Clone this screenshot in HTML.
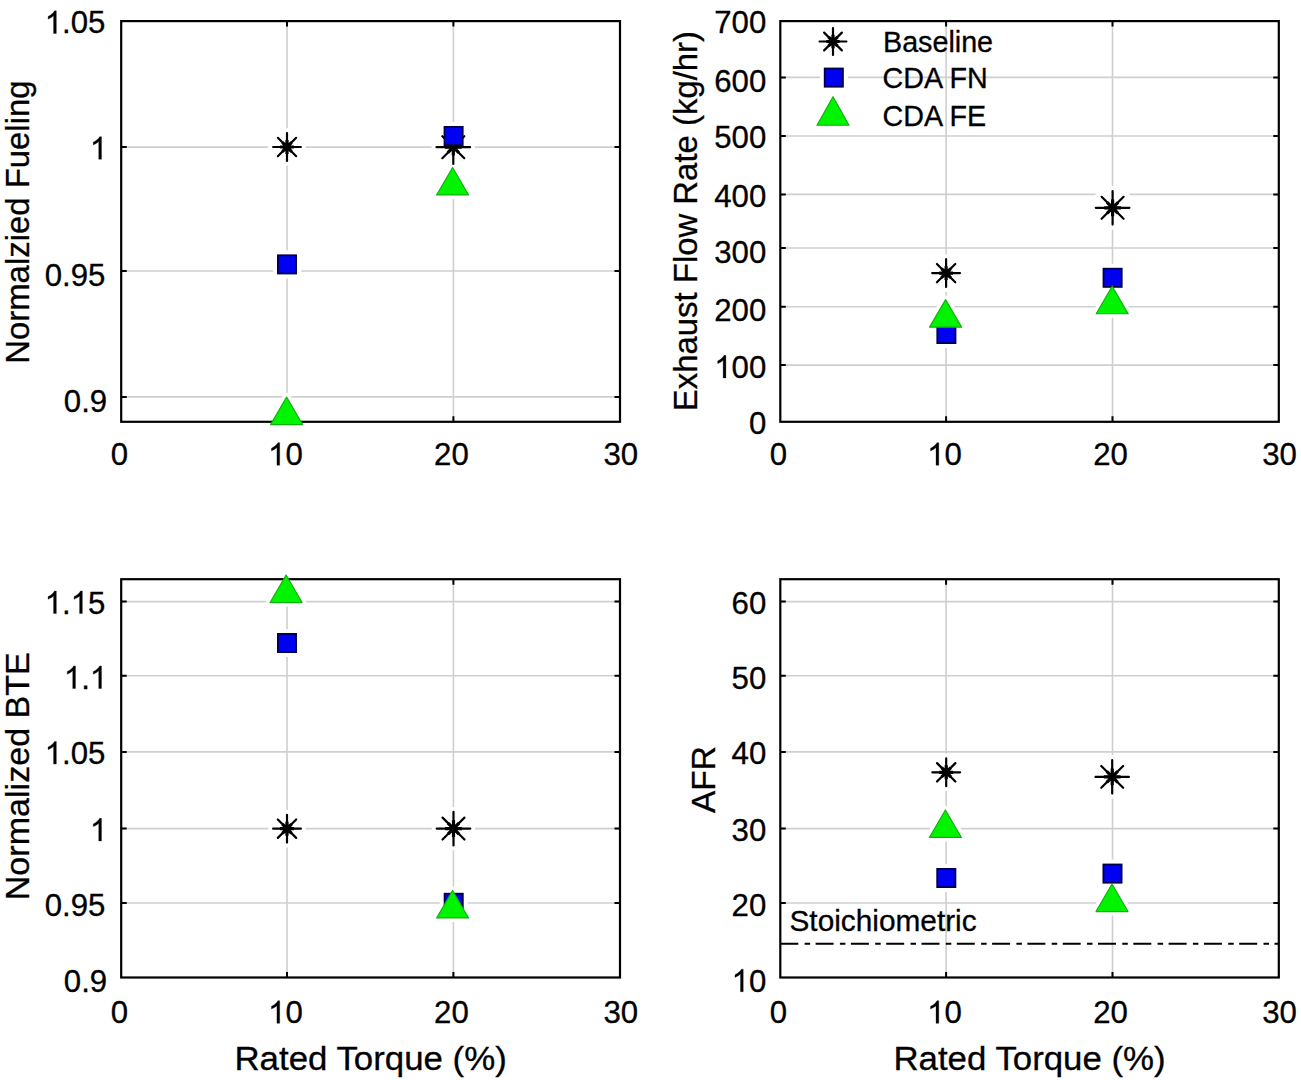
<!DOCTYPE html><html><head><meta charset="utf-8"><style>html,body{margin:0;padding:0;background:#fff;width:1301px;height:1080px;overflow:hidden;}</style></head><body><svg width="1301" height="1080" viewBox="0 0 1301 1080" style="position:absolute;left:0;top:0">
<rect width="1301" height="1080" fill="#fff"/>
<path d="M287 21.1V421.8M453.4 21.1V421.8M121.2 396.9H620M121.2 271H620M121.2 147.1H620" stroke="#cfcfcf" stroke-width="1.6" fill="none"/>
<circle cx="287" cy="147" r="18.8" fill="#fff"/><circle cx="453.3" cy="147.2" r="21.7" fill="#fff"/><rect x="273" y="250.4" width="28" height="28" fill="#fff"/><rect x="439.6" y="122" width="28" height="28" fill="#fff"/><path d="M286.6 397.05L302.6 424.55L270.6 424.55Z" fill="#fff" stroke="#fff" stroke-width="8" stroke-linejoin="round"/><path d="M452.6 167.45L468.6 194.95L436.6 194.95Z" fill="#fff" stroke="#fff" stroke-width="8" stroke-linejoin="round"/>
<path d="M287 21.1v5.5M287 421.8v-5.5M453.4 21.1v5.5M453.4 421.8v-5.5M121.2 396.9h5.5M620 396.9h-5.5M121.2 271h5.5M620 271h-5.5M121.2 147.1h5.5M620 147.1h-5.5" stroke="#000" stroke-width="2" fill="none"/>
<rect x="121.2" y="21.1" width="498.8" height="400.7" fill="none" stroke="#000" stroke-width="2.2"/>
<g font-family='"Liberation Sans", sans-serif' font-size="31.5" fill="#000" stroke="#000" stroke-width="0.3"><text transform="translate(63.85 412.1) scale(0.99 1)">0.9</text><text transform="translate(44.7 286.2) scale(0.99 1)">0.95</text><text transform="translate(89.86 159.2) scale(0.99 1)"> </text><path transform="translate(89.86 159.2) scale(0.01523 -0.01538)" d="M763 0L583 0L583 1147C540 1106 483 1064 413 1023C343 982 280 951 223 930L223 1104C323 1151 410 1208 485 1275C560 1342 613 1406 644 1466L763 1466Z" stroke-width="0.3" vector-effect="non-scaling-stroke"/><text transform="translate(44.7 33.4) scale(0.99 1)"> .05</text><path transform="translate(44.7 33.4) scale(0.01523 -0.01538)" d="M763 0L583 0L583 1147C540 1106 483 1064 413 1023C343 982 280 951 223 930L223 1104C323 1151 410 1208 485 1275C560 1342 613 1406 644 1466L763 1466Z" stroke-width="0.3" vector-effect="non-scaling-stroke"/><text transform="translate(110.73 465.2) scale(0.99 1)">0</text><text transform="translate(268.06 465.2) scale(0.99 1)"> 0</text><path transform="translate(268.06 465.2) scale(0.01523 -0.01538)" d="M763 0L583 0L583 1147C540 1106 483 1064 413 1023C343 982 280 951 223 930L223 1104C323 1151 410 1208 485 1275C560 1342 613 1406 644 1466L763 1466Z" stroke-width="0.3" vector-effect="non-scaling-stroke"/><text transform="translate(434.06 465.2) scale(0.99 1)">20</text><text transform="translate(603.46 465.2) scale(0.99 1)">30</text></g>
<text transform="translate(28.8 222.1) scale(1.0 1) rotate(-90)" text-anchor="middle" font-family='"Liberation Sans", sans-serif' font-size="32.9" stroke="#000" stroke-width="0.3">Normalzied Fueling</text>
<path d="M273.1 147H300.9M287 133.1V160.9M277.82 137.82L296.18 156.18M277.82 156.18L296.18 137.82" stroke="#000" stroke-width="2.2" stroke-linecap="round" fill="none"/><path d="M280.05 147H293.95M287 140.05V153.95M282.41 142.41L291.59 151.59M282.41 151.59L291.59 142.41" stroke="#000" stroke-width="3.2" fill="none"/><circle cx="287" cy="147" r="3.6"/><path d="M436.5 147.2H470.1M453.3 130.4V164M442.33 136.23L464.27 158.17M442.33 158.17L464.27 136.23" stroke="#000" stroke-width="2.2" stroke-linecap="round" fill="none"/><path d="M444.9 147.2H461.7M453.3 138.8V155.6M447.81 141.71L458.79 152.69M447.81 152.69L458.79 141.71" stroke="#000" stroke-width="3.2" fill="none"/><circle cx="453.3" cy="147.2" r="3.6"/><rect x="277.9" y="255.3" width="18.2" height="18.2" fill="#0000f2" stroke="#000048" stroke-width="1.8"/><rect x="444.5" y="126.9" width="18.2" height="18.2" fill="#0000f2" stroke="#000048" stroke-width="1.8"/><path d="M286.6 397.05L302.6 424.55L270.6 424.55Z" fill="#00f400" stroke="#10b010" stroke-width="1.2" stroke-linejoin="round"/><path d="M452.6 167.45L468.6 194.95L436.6 194.95Z" fill="#00f400" stroke="#10b010" stroke-width="1.2" stroke-linejoin="round"/>
<path d="M946.1 21.1V421.8M1112.5 21.1V421.8M780.3 365.1H1278.8M780.3 306.7H1278.8M780.3 248H1278.8M780.3 194.4H1278.8M780.3 136H1278.8M780.3 77.4H1278.8" stroke="#cfcfcf" stroke-width="1.6" fill="none"/>
<circle cx="946.1" cy="273.1" r="18.8" fill="#fff"/><circle cx="1112.6" cy="207.8" r="21.7" fill="#fff"/><rect x="932.4" y="320" width="28" height="28" fill="#fff"/><rect x="1098.6" y="263.8" width="28" height="28" fill="#fff"/><path d="M945.6 299.65L961.6 327.15L929.6 327.15Z" fill="#fff" stroke="#fff" stroke-width="8" stroke-linejoin="round"/><path d="M1112.2 286.25L1128.2 313.75L1096.2 313.75Z" fill="#fff" stroke="#fff" stroke-width="8" stroke-linejoin="round"/>
<path d="M946.1 21.1v5.5M946.1 421.8v-5.5M1112.5 21.1v5.5M1112.5 421.8v-5.5M780.3 365.1h5.5M1278.8 365.1h-5.5M780.3 306.7h5.5M1278.8 306.7h-5.5M780.3 248h5.5M1278.8 248h-5.5M780.3 194.4h5.5M1278.8 194.4h-5.5M780.3 136h5.5M1278.8 136h-5.5M780.3 77.4h5.5M1278.8 77.4h-5.5" stroke="#000" stroke-width="2" fill="none"/>
<rect x="780.3" y="21.1" width="498.5" height="400.7" fill="none" stroke="#000" stroke-width="2.2"/>
<g font-family='"Liberation Sans", sans-serif' font-size="31.5" fill="#000" stroke="#000" stroke-width="0.3"><text transform="translate(748.96 434) scale(0.99 1)">0</text><text transform="translate(714.27 377.9) scale(0.99 1)"> 00</text><path transform="translate(714.27 377.9) scale(0.01523 -0.01538)" d="M763 0L583 0L583 1147C540 1106 483 1064 413 1023C343 982 280 951 223 930L223 1104C323 1151 410 1208 485 1275C560 1342 613 1406 644 1466L763 1466Z" stroke-width="0.3" vector-effect="non-scaling-stroke"/><text transform="translate(714.27 321.4) scale(0.99 1)">200</text><text transform="translate(714.27 263) scale(0.99 1)">300</text><text transform="translate(714.27 206.7) scale(0.99 1)">400</text><text transform="translate(714.27 148.3) scale(0.99 1)">500</text><text transform="translate(714.27 91.7) scale(0.99 1)">600</text><text transform="translate(714.27 33.2) scale(0.99 1)">700</text><text transform="translate(769.83 465.2) scale(0.99 1)">0</text><text transform="translate(927.16 465.2) scale(0.99 1)"> 0</text><path transform="translate(927.16 465.2) scale(0.01523 -0.01538)" d="M763 0L583 0L583 1147C540 1106 483 1064 413 1023C343 982 280 951 223 930L223 1104C323 1151 410 1208 485 1275C560 1342 613 1406 644 1466L763 1466Z" stroke-width="0.3" vector-effect="non-scaling-stroke"/><text transform="translate(1093.16 465.2) scale(0.99 1)">20</text><text transform="translate(1262.26 465.2) scale(0.99 1)">30</text></g>
<text transform="translate(696.8 221.1) scale(1.0 1) rotate(-90)" text-anchor="middle" font-family='"Liberation Sans", sans-serif' font-size="32.9" stroke="#000" stroke-width="0.3">Exhaust Flow Rate (kg/hr)</text>
<path d="M932.2 273.1H960M946.1 259.2V287M936.92 263.92L955.28 282.28M936.92 282.28L955.28 263.92" stroke="#000" stroke-width="2.2" stroke-linecap="round" fill="none"/><path d="M939.15 273.1H953.05M946.1 266.15V280.05M941.51 268.51L950.69 277.69M941.51 277.69L950.69 268.51" stroke="#000" stroke-width="3.2" fill="none"/><circle cx="946.1" cy="273.1" r="3.6"/><path d="M1095.8 207.8H1129.4M1112.6 191V224.6M1101.63 196.83L1123.57 218.77M1101.63 218.77L1123.57 196.83" stroke="#000" stroke-width="2.2" stroke-linecap="round" fill="none"/><path d="M1104.2 207.8H1121M1112.6 199.4V216.2M1107.11 202.31L1118.09 213.29M1107.11 213.29L1118.09 202.31" stroke="#000" stroke-width="3.2" fill="none"/><circle cx="1112.6" cy="207.8" r="3.6"/><rect x="937.3" y="324.9" width="18.2" height="18.2" fill="#0000f2" stroke="#000048" stroke-width="1.8"/><rect x="1103.5" y="268.7" width="18.2" height="18.2" fill="#0000f2" stroke="#000048" stroke-width="1.8"/><path d="M945.6 299.65L961.6 327.15L929.6 327.15Z" fill="#00f400" stroke="#10b010" stroke-width="1.2" stroke-linejoin="round"/><path d="M1112.2 286.25L1128.2 313.75L1096.2 313.75Z" fill="#00f400" stroke="#10b010" stroke-width="1.2" stroke-linejoin="round"/>
<path d="M287 579.2V977.5M453.4 579.2V977.5M121.2 903H620M121.2 828.6H620M121.2 751.9H620M121.2 675.7H620M121.2 601.6H620" stroke="#cfcfcf" stroke-width="1.6" fill="none"/>
<circle cx="287" cy="828.7" r="18.8" fill="#fff"/><circle cx="453.5" cy="828.6" r="21.7" fill="#fff"/><rect x="273" y="629" width="28" height="28" fill="#fff"/><rect x="439.7" y="888.8" width="28" height="28" fill="#fff"/><path d="M286.1 575.05L302.1 602.55L270.1 602.55Z" fill="#fff" stroke="#fff" stroke-width="8" stroke-linejoin="round"/><path d="M452.6 890.45L468.6 917.95L436.6 917.95Z" fill="#fff" stroke="#fff" stroke-width="8" stroke-linejoin="round"/>
<path d="M287 579.2v5.5M287 977.5v-5.5M453.4 579.2v5.5M453.4 977.5v-5.5M121.2 903h5.5M620 903h-5.5M121.2 828.6h5.5M620 828.6h-5.5M121.2 751.9h5.5M620 751.9h-5.5M121.2 675.7h5.5M620 675.7h-5.5M121.2 601.6h5.5M620 601.6h-5.5" stroke="#000" stroke-width="2" fill="none"/>
<rect x="121.2" y="579.2" width="498.8" height="398.3" fill="none" stroke="#000" stroke-width="2.2"/>
<g font-family='"Liberation Sans", sans-serif' font-size="31.5" fill="#000" stroke="#000" stroke-width="0.3"><text transform="translate(63.85 991.7) scale(0.99 1)">0.9</text><text transform="translate(44.7 915.7) scale(0.99 1)">0.95</text><text transform="translate(89.86 840.9) scale(0.99 1)"> </text><path transform="translate(89.86 840.9) scale(0.01523 -0.01538)" d="M763 0L583 0L583 1147C540 1106 483 1064 413 1023C343 982 280 951 223 930L223 1104C323 1151 410 1208 485 1275C560 1342 613 1406 644 1466L763 1466Z" stroke-width="0.3" vector-effect="non-scaling-stroke"/><text transform="translate(44.7 764) scale(0.99 1)"> .05</text><path transform="translate(44.7 764) scale(0.01523 -0.01538)" d="M763 0L583 0L583 1147C540 1106 483 1064 413 1023C343 982 280 951 223 930L223 1104C323 1151 410 1208 485 1275C560 1342 613 1406 644 1466L763 1466Z" stroke-width="0.3" vector-effect="non-scaling-stroke"/><text transform="translate(63.85 688.5) scale(0.99 1)"> . </text><path transform="translate(63.85 688.5) scale(0.01523 -0.01538)" d="M763 0L583 0L583 1147C540 1106 483 1064 413 1023C343 982 280 951 223 930L223 1104C323 1151 410 1208 485 1275C560 1342 613 1406 644 1466L763 1466Z" stroke-width="0.3" vector-effect="non-scaling-stroke"/><path transform="translate(89.86 688.5) scale(0.01523 -0.01538)" d="M763 0L583 0L583 1147C540 1106 483 1064 413 1023C343 982 280 951 223 930L223 1104C323 1151 410 1208 485 1275C560 1342 613 1406 644 1466L763 1466Z" stroke-width="0.3" vector-effect="non-scaling-stroke"/><text transform="translate(44.7 613.6) scale(0.99 1)"> . 5</text><path transform="translate(44.7 613.6) scale(0.01523 -0.01538)" d="M763 0L583 0L583 1147C540 1106 483 1064 413 1023C343 982 280 951 223 930L223 1104C323 1151 410 1208 485 1275C560 1342 613 1406 644 1466L763 1466Z" stroke-width="0.3" vector-effect="non-scaling-stroke"/><path transform="translate(70.71 613.6) scale(0.01523 -0.01538)" d="M763 0L583 0L583 1147C540 1106 483 1064 413 1023C343 982 280 951 223 930L223 1104C323 1151 410 1208 485 1275C560 1342 613 1406 644 1466L763 1466Z" stroke-width="0.3" vector-effect="non-scaling-stroke"/><text transform="translate(110.73 1023.3) scale(0.99 1)">0</text><text transform="translate(268.06 1023.3) scale(0.99 1)"> 0</text><path transform="translate(268.06 1023.3) scale(0.01523 -0.01538)" d="M763 0L583 0L583 1147C540 1106 483 1064 413 1023C343 982 280 951 223 930L223 1104C323 1151 410 1208 485 1275C560 1342 613 1406 644 1466L763 1466Z" stroke-width="0.3" vector-effect="non-scaling-stroke"/><text transform="translate(434.06 1023.3) scale(0.99 1)">20</text><text transform="translate(603.46 1023.3) scale(0.99 1)">30</text></g>
<text transform="translate(29 776.2) scale(1.0 1) rotate(-90)" text-anchor="middle" font-family='"Liberation Sans", sans-serif' font-size="34.1" stroke="#000" stroke-width="0.3">Normalized BTE</text>
<path d="M273.1 828.7H300.9M287 814.8V842.6M277.82 819.52L296.18 837.88M277.82 837.88L296.18 819.52" stroke="#000" stroke-width="2.2" stroke-linecap="round" fill="none"/><path d="M280.05 828.7H293.95M287 821.75V835.65M282.41 824.11L291.59 833.29M282.41 833.29L291.59 824.11" stroke="#000" stroke-width="3.2" fill="none"/><circle cx="287" cy="828.7" r="3.6"/><path d="M436.7 828.6H470.3M453.5 811.8V845.4M442.53 817.63L464.47 839.57M442.53 839.57L464.47 817.63" stroke="#000" stroke-width="2.2" stroke-linecap="round" fill="none"/><path d="M445.1 828.6H461.9M453.5 820.2V837M448.01 823.11L458.99 834.09M448.01 834.09L458.99 823.11" stroke="#000" stroke-width="3.2" fill="none"/><circle cx="453.5" cy="828.6" r="3.6"/><rect x="277.9" y="633.9" width="18.2" height="18.2" fill="#0000f2" stroke="#000048" stroke-width="1.8"/><rect x="444.6" y="893.7" width="18.2" height="18.2" fill="#0000f2" stroke="#000048" stroke-width="1.8"/><path d="M286.1 575.05L302.1 602.55L270.1 602.55Z" fill="#00f400" stroke="#10b010" stroke-width="1.2" stroke-linejoin="round"/><path d="M452.6 890.45L468.6 917.95L436.6 917.95Z" fill="#00f400" stroke="#10b010" stroke-width="1.2" stroke-linejoin="round"/>
<path d="M946.1 579.2V977.5M1112.5 579.2V977.5M780.3 903H1278.8M780.3 828.6H1278.8M780.3 751.9H1278.8M780.3 675.7H1278.8M780.3 601.6H1278.8" stroke="#cfcfcf" stroke-width="1.6" fill="none"/>
<circle cx="946.2" cy="772.3" r="18.8" fill="#fff"/><circle cx="1112.2" cy="776.9" r="21.6" fill="#fff"/><rect x="932.3" y="864" width="28" height="28" fill="#fff"/><rect x="1098.5" y="859.6" width="28" height="28" fill="#fff"/><path d="M945.4 809.95L961.4 837.45L929.4 837.45Z" fill="#fff" stroke="#fff" stroke-width="8" stroke-linejoin="round"/><path d="M1112 884.05L1128 911.55L1096 911.55Z" fill="#fff" stroke="#fff" stroke-width="8" stroke-linejoin="round"/>
<path d="M946.1 579.2v5.5M946.1 977.5v-5.5M1112.5 579.2v5.5M1112.5 977.5v-5.5M780.3 903h5.5M1278.8 903h-5.5M780.3 828.6h5.5M1278.8 828.6h-5.5M780.3 751.9h5.5M1278.8 751.9h-5.5M780.3 675.7h5.5M1278.8 675.7h-5.5M780.3 601.6h5.5M1278.8 601.6h-5.5" stroke="#000" stroke-width="2" fill="none"/>
<rect x="780.3" y="579.2" width="498.5" height="398.3" fill="none" stroke="#000" stroke-width="2.2"/>
<g font-family='"Liberation Sans", sans-serif' font-size="31.5" fill="#000" stroke="#000" stroke-width="0.3"><text transform="translate(731.61 991.7) scale(0.99 1)"> 0</text><path transform="translate(731.61 991.7) scale(0.01523 -0.01538)" d="M763 0L583 0L583 1147C540 1106 483 1064 413 1023C343 982 280 951 223 930L223 1104C323 1151 410 1208 485 1275C560 1342 613 1406 644 1466L763 1466Z" stroke-width="0.3" vector-effect="non-scaling-stroke"/><text transform="translate(731.61 915.7) scale(0.99 1)">20</text><text transform="translate(731.61 840.9) scale(0.99 1)">30</text><text transform="translate(731.61 764) scale(0.99 1)">40</text><text transform="translate(731.61 688.5) scale(0.99 1)">50</text><text transform="translate(731.61 613.6) scale(0.99 1)">60</text><text transform="translate(769.83 1023.3) scale(0.99 1)">0</text><text transform="translate(927.16 1023.3) scale(0.99 1)"> 0</text><path transform="translate(927.16 1023.3) scale(0.01523 -0.01538)" d="M763 0L583 0L583 1147C540 1106 483 1064 413 1023C343 982 280 951 223 930L223 1104C323 1151 410 1208 485 1275C560 1342 613 1406 644 1466L763 1466Z" stroke-width="0.3" vector-effect="non-scaling-stroke"/><text transform="translate(1093.16 1023.3) scale(0.99 1)">20</text><text transform="translate(1262.26 1023.3) scale(0.99 1)">30</text></g>
<text transform="translate(715 779.5) scale(1.0 1) rotate(-90)" text-anchor="middle" font-family='"Liberation Sans", sans-serif' font-size="33.5" stroke="#000" stroke-width="0.3">AFR</text>
<path d="M932.3 772.3H960.1M946.2 758.4V786.2M937.02 763.12L955.38 781.48M937.02 781.48L955.38 763.12" stroke="#000" stroke-width="2.2" stroke-linecap="round" fill="none"/><path d="M939.25 772.3H953.15M946.2 765.35V779.25M941.61 767.71L950.79 776.89M941.61 776.89L950.79 767.71" stroke="#000" stroke-width="3.2" fill="none"/><circle cx="946.2" cy="772.3" r="3.6"/><path d="M1095.5 776.9H1128.9M1112.2 760.2V793.6M1101.29 765.99L1123.11 787.81M1101.29 787.81L1123.11 765.99" stroke="#000" stroke-width="2.2" stroke-linecap="round" fill="none"/><path d="M1103.85 776.9H1120.55M1112.2 768.55V785.25M1106.74 771.44L1117.66 782.36M1106.74 782.36L1117.66 771.44" stroke="#000" stroke-width="3.2" fill="none"/><circle cx="1112.2" cy="776.9" r="3.6"/><rect x="937.2" y="868.9" width="18.2" height="18.2" fill="#0000f2" stroke="#000048" stroke-width="1.8"/><rect x="1103.4" y="864.5" width="18.2" height="18.2" fill="#0000f2" stroke="#000048" stroke-width="1.8"/><path d="M945.4 809.95L961.4 837.45L929.4 837.45Z" fill="#00f400" stroke="#10b010" stroke-width="1.2" stroke-linejoin="round"/><path d="M1112 884.05L1128 911.55L1096 911.55Z" fill="#00f400" stroke="#10b010" stroke-width="1.2" stroke-linejoin="round"/>
<text transform="translate(370.6 1070) scale(1.04 1)" text-anchor="middle" font-family='"Liberation Sans", sans-serif' font-size="33.5" stroke="#000" stroke-width="0.3">Rated Torque (%)</text>
<text transform="translate(1029.55 1070) scale(1.04 1)" text-anchor="middle" font-family='"Liberation Sans", sans-serif' font-size="33.5" stroke="#000" stroke-width="0.3">Rated Torque (%)</text>
<rect x="819.8" y="63.6" width="28" height="28" fill="#fff"/>
<path d="M819.6 41.5H846.4M833 28.1V54.9M824.13 32.63L841.87 50.37M824.13 50.37L841.87 32.63" stroke="#000" stroke-width="2.2" stroke-linecap="round" fill="none"/><path d="M826.3 41.5H839.7M833 34.8V48.2M828.57 37.07L837.43 45.93M828.57 45.93L837.43 37.07" stroke="#000" stroke-width="3.2" fill="none"/><circle cx="833" cy="41.5" r="3.6"/>
<rect x="824.7" y="68.5" width="18.2" height="18.2" fill="#0000f2" stroke="#000048" stroke-width="1.8"/>
<path d="M833 96.75L849 125.25L817 125.25Z" fill="#00f400" stroke="#10b010" stroke-width="1.2" stroke-linejoin="round"/>
<g font-family='"Liberation Sans", sans-serif' font-size="28.7" stroke="#000" stroke-width="0.3"><text x="883" y="51.5">Baseline</text><text x="882.5" y="87.8">CDA FN</text><text x="882.5" y="125.8">CDA FE</text></g>
<path d="M780.3 943.7H1278.8" stroke="#000" stroke-width="2" stroke-dasharray="18 6.3 5.5 5.5" fill="none"/>
<text x="789.5" y="930.6" font-family='"Liberation Sans", sans-serif' font-size="29.8" stroke="#000" stroke-width="0.3">Stoichiometric</text>
</svg></body></html>
